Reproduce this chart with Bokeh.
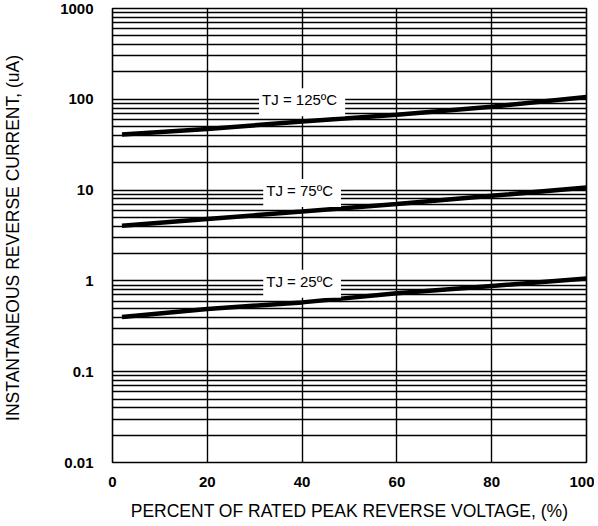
from bokeh.plotting import figure
from bokeh.models import FixedTicker, ColumnDataSource
from bokeh.core.properties import value
from bokeh.embed import file_html
from bokeh.resources import INLINE

# data
x_pct = [2, 20, 40, 60, 80, 100]
i_125 = [41, 47, 57, 67.5, 83, 106]
i_75 = [4.05, 4.8, 5.8, 7.05, 8.65, 10.7]
i_25 = [0.40, 0.49, 0.58, 0.73, 0.88, 1.06]

label_text = ["TJ = 125ºC", "TJ = 75ºC", "TJ = 25ºC"]
label_x = [40, 40, 40]
label_y = [93, 9.3, 0.93]

x_ticks = [0, 20, 40, 60, 80, 100]
y_ticks = [0.01, 0.1, 1, 10, 100, 1000]
y_tick_labels = ["0.01", "0.1", "1", "10", "100", "1000"]
y_minor = [m * d for d in [0.01, 0.1, 1, 10, 100] for m in range(2, 10)]

FONT = "Liberation Sans"

p = figure(frame_width=474, frame_height=454, x_range=(0, 100), y_range=(0.01, 1000),
           y_axis_type="log", output_backend="svg", toolbar_location=None,
           min_border_left=103, min_border_right=8, min_border_top=8,
           min_border_bottom=50)
p.background_fill_color = "white"
p.outline_line_color = "black"
p.outline_line_width = 1.6

p.xaxis.ticker = FixedTicker(ticks=x_ticks)
p.yaxis.ticker = FixedTicker(ticks=y_ticks, minor_ticks=y_minor)
p.yaxis.major_label_overrides = {t: l for t, l in zip(y_ticks, y_tick_labels)}

for ax in (p.xaxis, p.yaxis):
    ax.axis_line_color = None
    ax.major_tick_line_color = None
    ax.minor_tick_line_color = None
    ax.major_label_text_font = FONT
    ax.major_label_text_font_style = "bold"
    ax.major_label_text_font_size = "15px"
    ax.major_label_text_color = "black"
    ax.axis_label_text_font = FONT
    ax.axis_label_text_font_style = "normal"
    ax.axis_label_text_font_size = "17.5px"
    ax.axis_label_text_color = "black"

p.xaxis.major_label_standoff = 8
p.yaxis.major_label_standoff = 13
p.xaxis.axis_label = "PERCENT OF RATED PEAK REVERSE VOLTAGE, (%)"
p.yaxis.axis_label = "INSTANTANEOUS  REVERSE CURRENT, (uA)"
p.xaxis.axis_label_standoff = 11
p.yaxis.axis_label_standoff = 34

p.xgrid.grid_line_color = "black"
p.xgrid.grid_line_width = 1.4
p.xgrid.grid_line_alpha = 1.0
p.ygrid.grid_line_color = "black"
p.ygrid.grid_line_width = 1.4
p.ygrid.minor_grid_line_color = "black"
p.ygrid.minor_grid_line_width = 1.3

for ys in (i_125, i_75, i_25):
    p.line(x_pct, ys, line_color="black", line_width=4.5)

src = ColumnDataSource(dict(x=label_x, y=label_y, t=label_text))
p.text(x="x", y="y", text="t", source=src, text_font=value(FONT),
       text_font_size="15px", text_align="center", text_baseline="middle",
       text_color="black", background_fill_color="white",
       padding=[3, 8, 3, 8])

open("out.html", "w").write(file_html(p, INLINE))
